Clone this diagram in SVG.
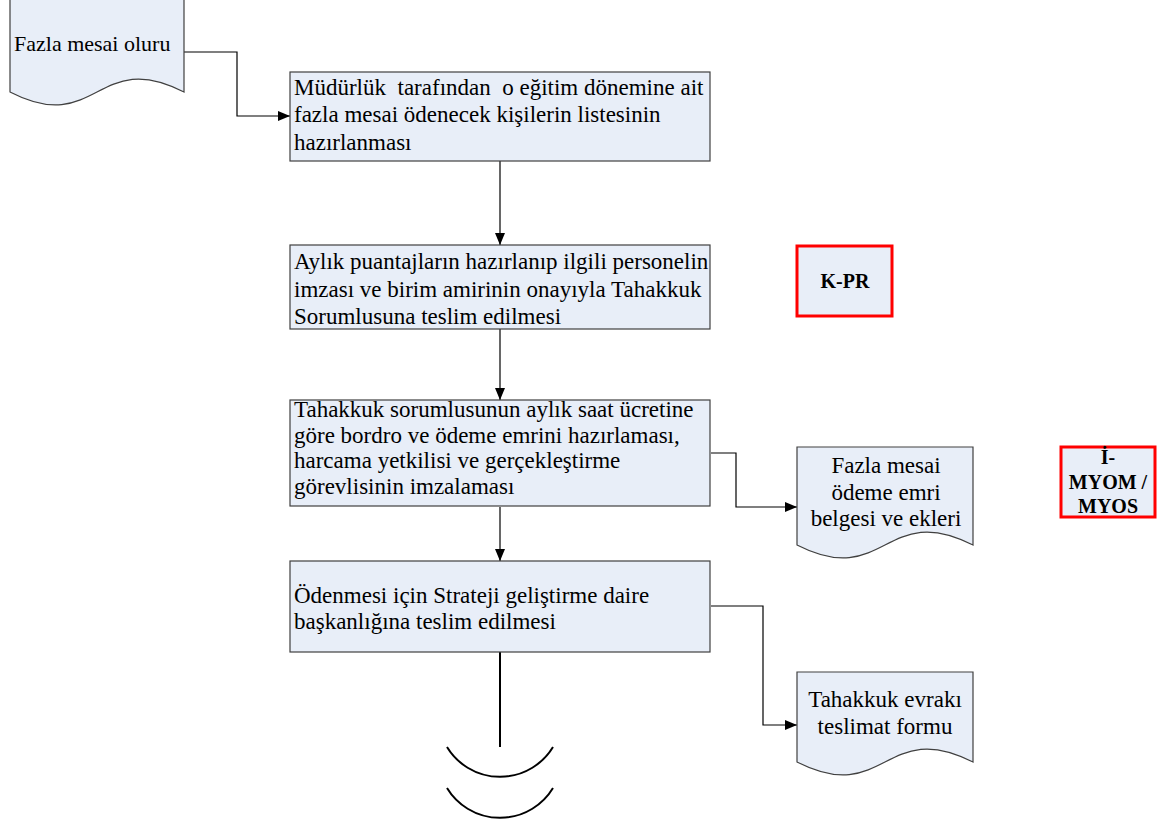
<svg xmlns="http://www.w3.org/2000/svg" width="1170" height="822" viewBox="0 0 1170 822">
<style>
.box{fill:#E8EEF8;stroke:#404040;stroke-width:1.2}
.tag{fill:#E8EEF8;stroke:#FF0000;stroke-width:3}
.t{font-family:'Liberation Serif','Tinos','Times New Roman','Noto Serif','DejaVu Serif',serif;font-size:23px;fill:#000}
.tb{font-family:'Liberation Serif','Tinos','Times New Roman','Noto Serif','DejaVu Serif',serif;font-size:20px;font-weight:bold;fill:#000;text-anchor:middle}
.c{fill:none;stroke:#000;stroke-width:1.2}
.arc{fill:none;stroke:#000;stroke-width:2}
</style>
<defs>
<marker id="ah" markerWidth="12" markerHeight="10" refX="12" refY="5" orient="auto" markerUnits="userSpaceOnUse">
<path d="M0,0 L12,5 L0,10 Z" fill="#000"/>
</marker>
</defs>
<rect width="1170" height="822" fill="#fff"/>
<g id="connectors">
<path class="c" d="M184,52 H237 V116 H290" marker-end="url(#ah)"/>
<path class="c" d="M500,161 V245" marker-end="url(#ah)"/>
<path class="c" d="M500,329 V400" marker-end="url(#ah)"/>
<path class="c" d="M500,507 V561" marker-end="url(#ah)"/>
<path class="c" d="M711,453 H736 V507 H797" marker-end="url(#ah)"/>
<path class="c" d="M711,606 H763 V725 H797" marker-end="url(#ah)"/>
<path class="arc" d="M500,652 V747"/>
</g>
<g id="doc1">
<path class="box" d="M10,-1 H184 V92 C97,47 97,137 10,92 Z"/>
<text class="t" x="14" y="51" font-family="Liberation Serif, serif" style="font-size:22px">Fazla mesai oluru</text>
</g>
<g id="step1">
<rect class="box" x="290" y="72" width="420" height="89"/>
<text class="t" xml:space="preserve" style="white-space:pre"><tspan x="294" y="95">Müdürlük  tarafından  o eğitim dönemine ait</tspan><tspan x="294" y="122">fazla mesai ödenecek kişilerin listesinin</tspan><tspan x="294" y="150">hazırlanması</tspan></text>
</g>
<g id="step2">
<rect class="box" x="290" y="245" width="420" height="84"/>
<text class="t"><tspan x="294" y="269">Aylık puantajların hazırlanıp ilgili personelin</tspan><tspan x="294" y="297">imzası ve birim amirinin onayıyla Tahakkuk</tspan><tspan x="294" y="324">Sorumlusuna teslim edilmesi</tspan></text>
</g>
<g id="kpr">
<rect class="tag" x="797" y="246" width="95" height="70"/>
<text class="tb" x="845" y="288">K-PR</text>
</g>
<g id="step3">
<rect class="box" x="290" y="400" width="420" height="106"/>
<text class="t"><tspan x="294" y="417">Tahakkuk sorumlusunun aylık saat ücretine</tspan><tspan x="294" y="443">göre bordro ve ödeme emrini hazırlaması,</tspan><tspan x="294" y="468">harcama yetkilisi ve gerçekleştirme</tspan><tspan x="294" y="494">görevlisinin imzalaması</tspan></text>
</g>
<g id="doc2">
<path class="box" d="M797,447 H973 V545 C885,500 885,590 797,545 Z"/>
<text class="t" style="text-anchor:middle"><tspan x="886" y="473">Fazla mesai</tspan><tspan x="886" y="500">ödeme emri</tspan><tspan x="886" y="526">belgesi ve ekleri</tspan></text>
</g>
<g id="imyom">
<rect class="tag" x="1061" y="447" width="94" height="70"/>
<text class="tb"><tspan x="1108" y="464">İ-</tspan><tspan x="1108" y="489">MYOM /</tspan><tspan x="1108" y="513">MYOS</tspan></text>
</g>
<g id="step4">
<rect class="box" x="290" y="561" width="420" height="91"/>
<text class="t"><tspan x="294" y="603">Ödenmesi için Strateji geliştirme daire</tspan><tspan x="294" y="629">başkanlığına teslim edilmesi</tspan></text>
</g>
<g id="doc3">
<path class="box" d="M797,672 H973 V762 C885,717 885,807 797,762 Z"/>
<text class="t" style="text-anchor:middle"><tspan x="885" y="707">Tahakkuk evrakı</tspan><tspan x="885" y="734">teslimat formu</tspan></text>
</g>
<g id="offpage">
<path class="arc" d="M447,747 A62,62 0 0 0 553,747"/>
<path class="arc" d="M447,788 A62,62 0 0 0 553,788"/>
</g>
</svg>
